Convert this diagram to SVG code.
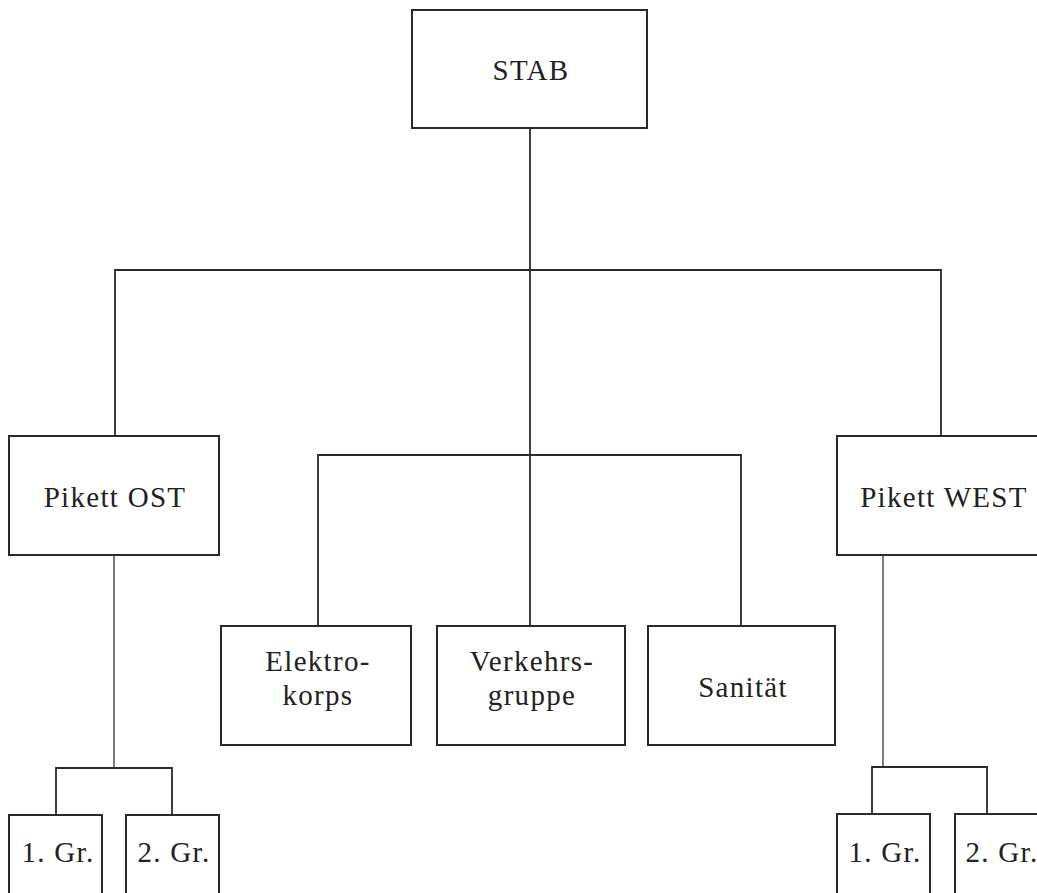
<svg xmlns="http://www.w3.org/2000/svg" width="1037" height="893" viewBox="0 0 1037 893">
<style>
.box{fill:#fff;stroke:#2a2a2a;stroke-width:2}
.ln{fill:none;stroke:#2a2a2a;stroke-width:1.8}
.ln2{fill:none;stroke:#444;stroke-width:1.4}
text{font-family:"Liberation Serif","Times New Roman",serif;font-size:29px;letter-spacing:1.3px;fill:#222;text-anchor:middle}
</style>
<rect width="1037" height="893" fill="#fff"/>
<g id="connectors">
<path class="ln" d="M530 128 V626"/>
<path class="ln" d="M115 436 V270 H941 V436"/>
<path class="ln" d="M318 626 V455 H741 V626"/>
<path class="ln2" d="M114 555 V768"/>
<path class="ln" d="M56 815 V768 H172 V815"/>
<path class="ln2" d="M883 555 V767"/>
<path class="ln" d="M872 814 V767 H987 V814"/>
</g>
<g id="stab"><rect class="box" x="412" y="10" width="235" height="118"/><text x="531" y="80">STAB</text></g>
<g id="pikett-ost"><rect class="box" x="9" y="436" width="210" height="119"/><text x="115" y="507">Pikett OST</text></g>
<g id="pikett-west"><rect class="box" x="837" y="436" width="220" height="119"/><text x="944" y="507">Pikett WEST</text></g>
<g id="elektrokorps"><rect class="box" x="221" y="626" width="190" height="119"/><text x="318" y="671">Elektro-</text><text x="318" y="705">korps</text></g>
<g id="verkehrsgruppe"><rect class="box" x="437" y="626" width="188" height="119"/><text x="532" y="671">Verkehrs-</text><text x="532" y="705">gruppe</text></g>
<g id="sanitaet"><rect class="box" x="648" y="626" width="187" height="119"/><text x="743" y="697">Sanität</text></g>
<g id="ost-gr1"><rect class="box" x="9" y="815" width="93" height="90"/><text x="58" y="862">1. Gr.</text></g>
<g id="ost-gr2"><rect class="box" x="126" y="815" width="93" height="90"/><text x="174" y="862">2. Gr.</text></g>
<g id="west-gr1"><rect class="box" x="837" y="814" width="93" height="90"/><text x="885" y="862">1. Gr.</text></g>
<g id="west-gr2"><rect class="box" x="955" y="814" width="93" height="90"/><text x="1002" y="862">2. Gr.</text></g>
</svg>
